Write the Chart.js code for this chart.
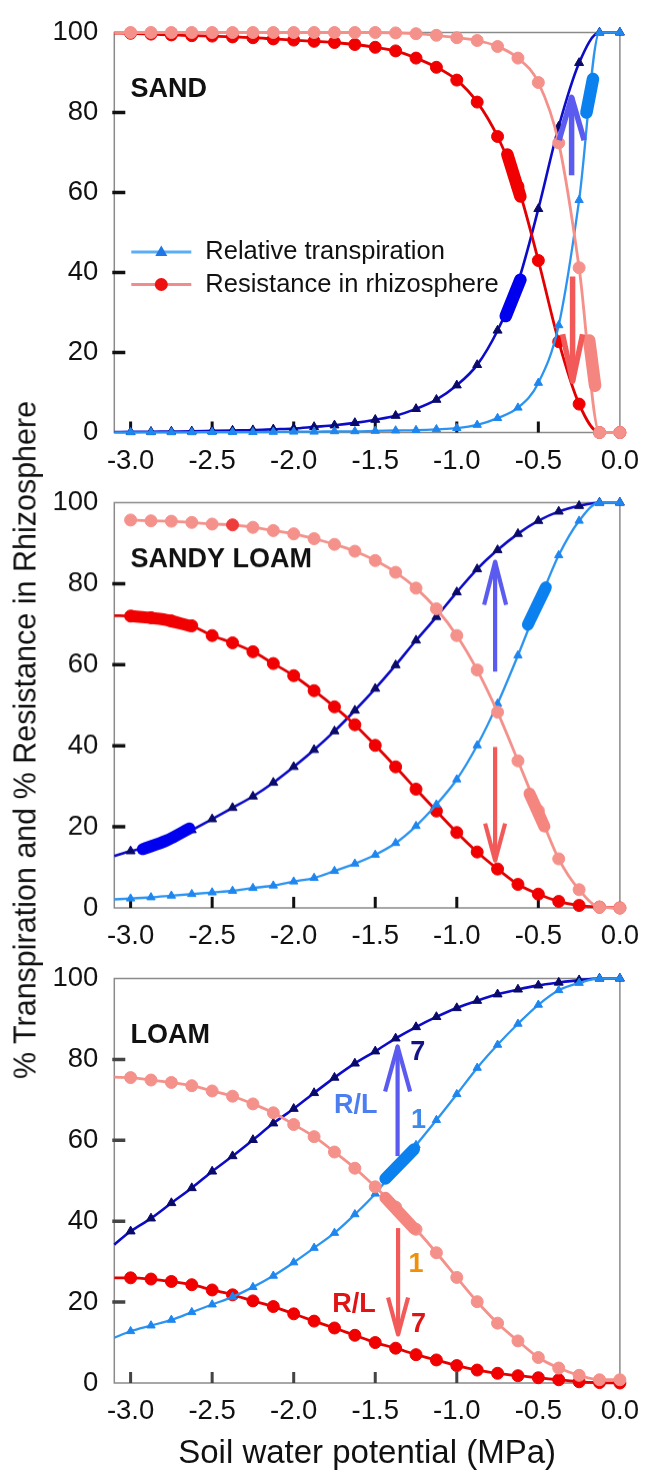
<!DOCTYPE html>
<html>
<head>
<meta charset="utf-8">
<script src="https://cdn.jsdelivr.net/npm/chart.js@4.4.1/dist/chart.umd.min.js"></script>
<style>
  html, body { margin: 0; padding: 0; background: #fff; }
  body { width: 651px; height: 1474px; position: relative; overflow: hidden; font-family: Arial, "Liberation Sans", sans-serif; }
  .panel { position: absolute; left: 0; width: 651px; }
  #p1 { top: 0; height: 490px; }
  #p2 { top: 470px; height: 494.5px; }
  #p3 { top: 946px; height: 528px; }
  #ytitle {
    position: absolute; left: 25px; top: 740px;
    transform: translate(-50%, -50%) rotate(-90deg);
    white-space: nowrap; font-size: 30.5px; color: #111;
  }
</style>
</head>
<body>
<div class="panel" id="p1"><canvas id="c1"></canvas></div>
<div class="panel" id="p2"><canvas id="c2"></canvas></div>
<div class="panel" id="p3"><canvas id="c3"></canvas></div>
<div id="ytitle">% Transpiration and % Resistance in Rhizosphere</div>

<script>
// soil water potential (MPa) where the symbols sit
const psi = [-3.0, -2.875, -2.75, -2.625, -2.5, -2.375, -2.25, -2.125, -2.0, -1.875, -1.75, -1.625,
             -1.5, -1.375, -1.25, -1.125, -1.0, -0.875, -0.75, -0.625, -0.5, -0.375, -0.25, -0.125, 0.0];
const xEdge = -3.1;                 // curves start at the left frame
const xTicks = [-3.0, -2.5, -2.0, -1.5, -1.0, -0.5, 0.0];
const yTicks = [0, 20, 40, 60, 80, 100];
const xMarks = [-3.0, -2.5, -2.0, -1.5, -1.0, -0.5];
const yMarks = [20, 40, 60, 80];

// SAND  (T7/T1 = transpiration at R/L 7 and 1, R7/R1 = rhizosphere resistance)
const sandT7 = [0.15, 0.2, 0.25, 0.3, 0.4, 0.5, 0.6, 0.8, 1.0, 1.4, 1.8, 2.4, 3.2, 4.2, 5.9, 8.2, 11.8, 16.9, 25.5, 37.5, 55.9, 76.5, 92.4, 100, 100];
const sandT1 = [0.05, 0.05, 0.05, 0.05, 0.1, 0.1, 0.1, 0.15, 0.2, 0.2, 0.3, 0.3, 0.4, 0.5, 0.6, 0.8, 1.1, 1.9, 3.6, 6.2, 12.4, 26.8, 58.1, 100, 100];
const sandR7 = [99.8, 99.6, 99.4, 99.2, 99.1, 98.9, 98.7, 98.4, 98.1, 97.8, 97.5, 97.0, 96.3, 95.4, 93.6, 91.3, 88.1, 82.6, 74.0, 61.5, 43.0, 22.7, 7.1, 0, 0];
const sandR1 = [100, 100, 100, 100, 100, 100, 100, 100, 100, 100, 100, 100, 100, 99.9, 99.7, 99.3, 98.7, 98.0, 96.5, 93.6, 87.5, 72.4, 41.2, 0, 0];
const sandStart = [0.12, 0.05, 99.85, 100];
const sandBoldT7 = [[-0.70, 29.1], [-0.61, 38.2]];
const sandBoldT1 = [[-0.205, 80.0], [-0.165, 88.4]];
const sandBoldR7 = [[-0.69, 69.5], [-0.61, 59.0]];
const sandBoldR1 = [[-0.188, 23.0], [-0.152, 11.7]];
const sandUp = [-0.296, 64.3, 83.8];
const sandDown = [-0.29, 39.0, 12.8];

// SANDY LOAM
const sandyLoamT7 = [14.0, 15.3, 16.9, 19.2, 21.9, 24.7, 27.5, 30.9, 34.8, 39.0, 43.6, 48.7, 54.1, 59.9, 66.0, 71.8, 77.9, 83.6, 88.3, 92.3, 95.5, 97.8, 99.2, 100, 100];
const sandyLoamT1 = [2.3, 2.6, 3.0, 3.4, 3.8, 4.2, 4.9, 5.5, 6.5, 7.4, 9.1, 10.9, 13.1, 16.0, 20.2, 25.5, 31.7, 40.1, 50.4, 62.3, 75.0, 87.0, 95.5, 100, 100];
const sandyLoamR7 = [72.0, 71.6, 70.8, 69.6, 67.2, 65.4, 63.2, 60.3, 57.3, 53.6, 49.6, 45.2, 40.1, 34.8, 29.3, 23.9, 18.6, 13.8, 9.6, 5.8, 3.4, 1.6, 0.6, 0.2, 0];
const sandyLoamR1 = [95.7, 95.5, 95.4, 95.1, 94.7, 94.5, 93.9, 93.1, 92.3, 91.1, 89.7, 88.0, 85.7, 82.8, 78.9, 73.8, 67.2, 58.7, 48.3, 36.3, 24.0, 12.1, 4.5, 0.2, 0];
const sandyLoamStart = [12.8, 2.1, 72.1, null];
const sandyLoamBoldT7 = [[-2.925, 14.5], [-2.78, 16.6], [-2.64, 19.6]];
const sandyLoamBoldT1 = [[-0.564, 69.9], [-0.454, 79.1]];
const sandyLoamBoldR7 = [[-2.99, 72.0], [-2.8, 71.2], [-2.64, 69.6]];
const sandyLoamBoldR1 = [[-0.554, 28.2], [-0.463, 20.1]];
const sandyLoamUp = [-0.765, 58.3, 85.4];
const sandyLoamDown = [-0.765, 39.7, 11.7];

// LOAM
const loamT7 = [37.5, 40.7, 44.5, 48.2, 52.3, 56.1, 60.1, 64.2, 67.8, 71.7, 75.5, 79.0, 82.0, 85.2, 88.0, 90.5, 92.7, 94.5, 96.1, 97.3, 98.3, 99.0, 99.6, 100, 100];
const loamT1 = [12.8, 14.2, 15.6, 17.5, 19.4, 21.3, 23.7, 26.5, 29.8, 33.4, 37.1, 41.7, 46.8, 53.0, 58.8, 65.0, 71.4, 77.9, 83.6, 88.8, 93.5, 97.1, 98.9, 100, 100];
const loamR7 = [26.0, 25.7, 25.1, 24.3, 23.0, 21.8, 20.3, 18.9, 17.1, 15.3, 13.6, 11.8, 10.0, 8.6, 7.0, 5.7, 4.3, 3.2, 2.4, 1.8, 1.3, 0.8, 0.3, 0.1, 0];
const loamR1 = [75.5, 74.9, 74.3, 73.5, 72.2, 70.9, 69.0, 66.8, 63.9, 60.9, 57.1, 53.1, 48.5, 43.5, 38.0, 32.2, 26.1, 20.1, 14.8, 10.4, 6.3, 3.7, 1.9, 0.8, 0.8];
const loamStart = [34.2, 11.2, 26.0, 75.6];
const loamBoldT1 = [[-1.438, 50.5], [-1.262, 57.8]];
const loamBoldR1 = [[-1.438, 45.8], [-1.262, 38.2]];
const loamUp = [-1.363, 56.1, 83.2];
const loamDown = [-1.36, 38.3, 12.0];
const loamNotes = ['7', 'R/L', '1', '1', 'R/L', '7'];
const loamNoteX = [-1.24, -1.62, -1.235, -1.25, -1.63, -1.235];
const loamNoteY = [81.6, 68.6, 65.0, 29.4, 19.3, 14.4];

const legendLabels = ['Relative transpiration', 'Resistance in rhizosphere'];

const FONT = 'Arial, "Liberation Sans", sans-serif';
const C = {
  navyLine: '#0c0cc8', navyMark: '#0a0a6a',
  skyLine: '#2c94f0', skyMark: '#1e86ee',
  redLine: '#e20000', redMark: '#f00000',
  pinkLine: '#f4918b', pinkMark: '#f4918b',
  boldNavy: '#0000ee', boldSky: '#0b80ef', boldRed: '#f00000', boldPink: '#f4857f',
  arrowBlue: '#5b5bef', arrowRed: '#f25a5a'
};
const noteColors = ['#14148a', '#4c7ef0', '#3f8ae8', '#f0900a', '#e01414', '#e01414'];

function curve(start, values, line, mark, style, radius, width, accent) {
  const pts = [], radii = [], fills = [];
  if (start !== null) { pts.push({ x: xEdge, y: start }); radii.push(0); fills.push(mark); }
  psi.forEach((x, i) => {
    pts.push({ x: x, y: values[i] });
    radii.push(radius);
    fills.push(accent && accent.index === i ? accent.color : mark);
  });
  return {
    data: pts, borderColor: line, borderWidth: width,
    pointStyle: style, pointRadius: radii, pointBackgroundColor: fills, pointBorderColor: fills,
    pointBorderWidth: 1, cubicInterpolationMode: 'monotone', clip: false
  };
}

function bold(pairs, color, width) {
  return {
    data: pairs.map(p => ({ x: p[0], y: p[1] })), borderColor: color, borderWidth: width,
    borderCapStyle: 'round', borderJoinStyle: 'round', pointRadius: 0, tension: 0.3, clip: false
  };
}

function quad(start, t7, t1, r7, r1, accent) {
  // pink on top, then sky blue, red, navy at the bottom
  return [
    curve(start[3], r1, C.pinkLine, C.pinkMark, 'circle', 6, 2.8, accent),
    curve(start[1], t1, C.skyLine, C.skyMark, 'triangle', 4.8, 2.3),
    curve(start[2], r7, C.redLine, C.redMark, 'circle', 6, 2.8),
    curve(start[0], t7, C.navyLine, C.navyMark, 'triangle', 5.2, 2.6)
  ];
}

const extras = {
  c1: { name: 'SAND', tick: '#111', up: sandUp, down: sandDown, lw: 5.5, upHead: [12.5, 43], downHead: [10, 47], legend: true },
  c2: { name: 'SANDY LOAM', tick: '#111', up: sandyLoamUp, down: sandyLoamDown, lw: 4.2, upHead: [11, 43], downHead: [10, 37] },
  c3: { name: 'LOAM', tick: '#444', up: loamUp, down: loamDown, lw: 4.2, upHead: [12.5, 45], downHead: [10, 37], notes: true }
};

function arrow(ctx, px, y0, y1, color, lw, head) {
  const dir = y1 < y0 ? 1 : -1;
  ctx.strokeStyle = color;
  ctx.lineWidth = lw;
  ctx.lineCap = 'butt';
  ctx.lineJoin = 'round';
  ctx.beginPath();
  ctx.moveTo(px, y0);
  ctx.lineTo(px, y1);
  ctx.stroke();
  ctx.beginPath();
  ctx.moveTo(px - head[0], y1 + dir * head[1]);
  ctx.lineTo(px, y1);
  ctx.lineTo(px + head[0], y1 + dir * head[1]);
  ctx.stroke();
}

const decor = {
  id: 'decor',
  beforeDatasetsDraw(chart) {
    const ex = extras[chart.canvas.id];
    const { ctx, chartArea: a, scales: { x, y } } = chart;
    ctx.save();
    ctx.strokeStyle = '#8a8a8a';
    ctx.lineWidth = 1.5;
    ctx.strokeRect(a.left, a.top, a.right - a.left, a.bottom - a.top);
    // short inward tick marks
    ctx.strokeStyle = ex.tick;
    ctx.lineWidth = 3.5;
    ctx.beginPath();
    yMarks.forEach(v => {
      const py = y.getPixelForValue(v);
      ctx.moveTo(a.left - 2, py);
      ctx.lineTo(a.left + 11, py);
    });
    ctx.stroke();
    ctx.lineWidth = 3;
    ctx.beginPath();
    xMarks.forEach(v => {
      const px = x.getPixelForValue(v);
      ctx.moveTo(px, a.bottom);
      ctx.lineTo(px, a.bottom - 11);
    });
    ctx.stroke();
    ctx.restore();
  },
  afterDatasetsDraw(chart) {
    const ex = extras[chart.canvas.id];
    const { ctx, chartArea: a, scales: { x, y } } = chart;
    ctx.save();
    arrow(ctx, x.getPixelForValue(ex.up[0]), y.getPixelForValue(ex.up[1]), y.getPixelForValue(ex.up[2]), C.arrowBlue, ex.lw, ex.upHead);
    arrow(ctx, x.getPixelForValue(ex.down[0]), y.getPixelForValue(ex.down[1]), y.getPixelForValue(ex.down[2]), C.arrowRed, ex.lw, ex.downHead);

    ctx.fillStyle = '#111';
    ctx.font = 'bold 27px ' + FONT;
    ctx.textAlign = 'left';
    ctx.textBaseline = 'middle';
    ctx.fillText(ex.name, x.getPixelForValue(-3.0), y.getPixelForValue(85.8));

    if (ex.notes) {
      ctx.textAlign = 'center';
      loamNotes.forEach((t, i) => {
        ctx.fillStyle = noteColors[i];
        ctx.fillText(t, x.getPixelForValue(loamNoteX[i]), y.getPixelForValue(loamNoteY[i]));
      });
    }

    if (ex.legend) {
      const x0 = a.left + 17, x1 = a.left + 77, xm = (x0 + x1) / 2;
      const rows = [y.getPixelForValue(45.1), y.getPixelForValue(37.0)];
      ctx.lineWidth = 3;
      ctx.strokeStyle = '#5aaef5';
      ctx.beginPath(); ctx.moveTo(x0, rows[0]); ctx.lineTo(x1, rows[0]); ctx.stroke();
      ctx.fillStyle = '#1f77e6';
      ctx.beginPath();
      ctx.moveTo(xm, rows[0] - 6.5);
      ctx.lineTo(xm + 6, rows[0] + 4);
      ctx.lineTo(xm - 6, rows[0] + 4);
      ctx.closePath(); ctx.fill();
      ctx.strokeStyle = '#f28b8b';
      ctx.beginPath(); ctx.moveTo(x0, rows[1]); ctx.lineTo(x1, rows[1]); ctx.stroke();
      ctx.fillStyle = '#ee1111';
      ctx.beginPath(); ctx.arc(xm, rows[1], 6.5, 0, Math.PI * 2); ctx.fill();
      ctx.fillStyle = '#111';
      ctx.font = '25.5px ' + FONT;
      ctx.textAlign = 'left';
      legendLabels.forEach((t, i) => ctx.fillText(t, a.left + 91, rows[i]));
    }
    ctx.restore();
  }
};

function panel(id, datasets, padTop, axisH, withTitle) {
  return new Chart(document.getElementById(id), {
    type: 'line',
    data: { datasets: datasets },
    plugins: [decor],
    options: {
      animation: false,
      responsive: true,
      maintainAspectRatio: false,
      devicePixelRatio: 1,
      layout: { padding: { top: padTop, right: 19.5, bottom: 0, left: 0 } },
      plugins: { legend: { display: false }, tooltip: { enabled: false } },
      scales: {
        x: {
          type: 'linear', min: xEdge, max: 0,
          grid: { display: false, drawTicks: false }, border: { display: false },
          afterBuildTicks: s => { s.ticks = xTicks.map(v => ({ value: v })); },
          afterFit: s => { s.height = axisH; },
          ticks: { padding: 12, autoSkip: false, maxRotation: 0, color: '#111', font: { size: 27.5, family: FONT },
                   callback: v => Number(v).toFixed(1) },
          title: { display: withTitle, text: 'Soil water potential (MPa)', color: '#111',
                   font: { size: 33, family: FONT }, padding: { top: 0, bottom: 0 } }
        },
        y: {
          min: 0, max: 100,
          grid: { display: false, drawTicks: false }, border: { display: false },
          afterBuildTicks: s => { s.ticks = yTicks.map(v => ({ value: v })); },
          afterFit: s => { s.width = 114.3; },
          ticks: { padding: 16, color: '#111', font: { size: 27.5, family: FONT } }
        }
      }
    }
  });
}

const sandSets = [
  bold(sandBoldR1, C.boldPink, 12.5), bold(sandBoldT1, C.boldSky, 12.5),
  bold(sandBoldR7, C.boldRed, 12.5), bold(sandBoldT7, C.boldNavy, 12.5)
].concat(quad(sandStart, sandT7, sandT1, sandR7, sandR1));

const sandyLoamSets = [
  bold(sandyLoamBoldR1, C.boldPink, 12), bold(sandyLoamBoldT1, C.boldSky, 12),
  bold(sandyLoamBoldR7, C.boldRed, 12), bold(sandyLoamBoldT7, C.boldNavy, 12)
].concat(quad(sandyLoamStart, sandyLoamT7, sandyLoamT1, sandyLoamR7, sandyLoamR1, { index: 5, color: '#ee3b3b' }));

const loamSets = [
  bold(loamBoldR1, C.boldPink, 12), bold(loamBoldT1, C.boldSky, 12)
].concat(quad(loamStart, loamT7, loamT1, loamR7, loamR1));

panel('c1', sandSets, 23.5, 57.5, false);
panel('c2', sandyLoamSets, 25.5, 57.5, false);
panel('c3', loamSets, 25, 91, true);
</script>
</body>
</html>
